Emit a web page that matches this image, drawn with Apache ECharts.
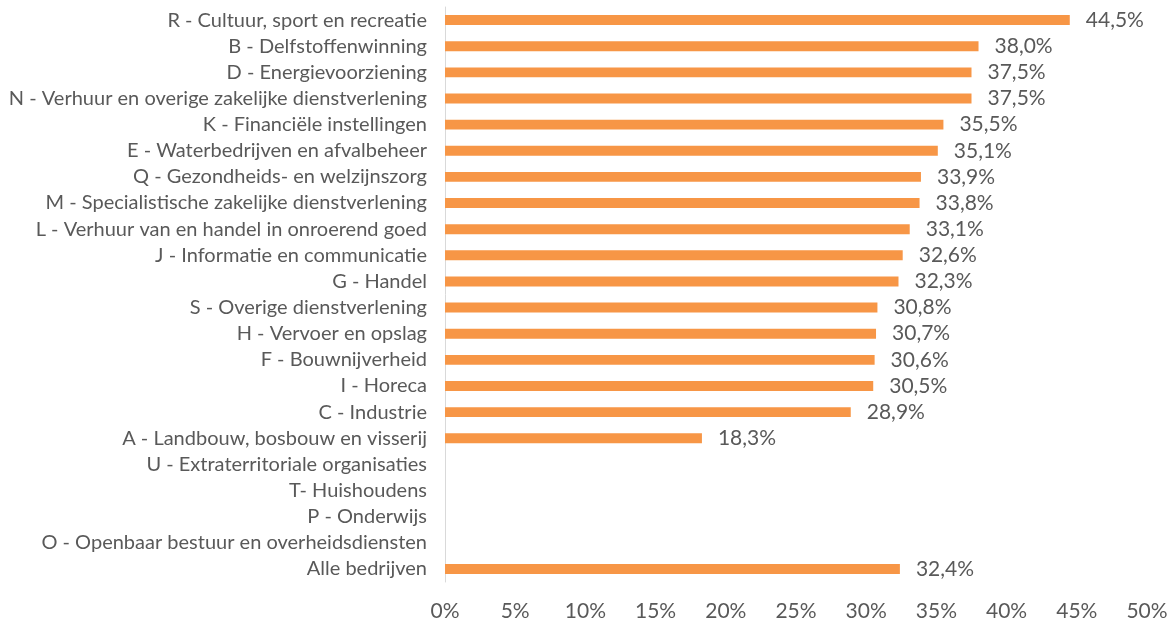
<!DOCTYPE html>
<html>
<head>
<meta charset="utf-8">
<script src="https://cdn.jsdelivr.net/npm/echarts@6/dist/echarts.min.js"></script>
<style>
  html, body { margin: 0; padding: 0; background: #fff; }
  #chart { width: 1176px; height: 623px; }
</style>
</head>
<body>
<div id="chart"></div>
<script>
// sectoren
var categories = [
  'R - Cultuur, sport en recreatie',
  'B - Delfstoffenwinning',
  'D - Energievoorziening',
  'N - Verhuur en overige zakelijke dienstverlening',
  'K - Financiële instellingen',
  'E - Waterbedrijven en afvalbeheer',
  'Q - Gezondheids- en welzijnszorg',
  'M - Specialistische zakelijke dienstverlening',
  'L - Verhuur van en handel in onroerend goed',
  'J - Informatie en communicatie',
  'G - Handel',
  'S - Overige dienstverlening',
  'H - Vervoer en opslag',
  'F - Bouwnijverheid',
  'I - Horeca',
  'C - Industrie',
  'A - Landbouw, bosbouw en visserij',
  'U - Extraterritoriale organisaties',
  'T- Huishoudens',
  'P - Onderwijs',
  'O - Openbaar bestuur en overheidsdiensten',
  'Alle bedrijven'
]
// percentages
var values = [44.5, 38.0, 37.5, 37.5, 35.5, 35.1, 33.9, 33.8, 33.1, 32.6, 32.3,
  30.8, 30.7, 30.6, 30.5, 28.9, 18.3, null, null, null, null, 32.4]

var fmt = function (v) { return v.toFixed(1).replace('.', ',') + '%' }
var textColor = '#595959'
var font = 'Lato'

var chart = echarts.init(document.getElementById('chart'))
chart.setOption({
  animation: false,
  grid: { left: 445, right: 29, top: 7, bottom: 41, containLabel: false },
  xAxis: {
    type: 'value',
    min: 0,
    max: 50,
    interval: 5,
    axisLine: { show: false },
    axisTick: { show: false },
    splitLine: { show: false },
    axisLabel: {
      formatter: '{value}%',
      color: textColor,
      fontFamily: font,
      fontSize: 21,
      margin: 19
    }
  },
  yAxis: {
    type: 'category',
    inverse: true,
    data: categories,
    axisLine: { show: true, lineStyle: { color: '#d9d9d9', width: 1 } },
    axisTick: { show: false },
    axisLabel: {
      color: textColor,
      fontFamily: font,
      fontSize: 20,
      margin: 18
    }
  },
  series: [{
    type: 'bar',
    data: values,
    barCategoryGap: '62%',
    itemStyle: { color: '#F79646' },
    label: {
      show: true,
      position: 'right',
      distance: 16,
      color: textColor,
      fontFamily: font,
      fontSize: 21,
      formatter: function (p) { return p.value == null ? '' : fmt(p.value) }
    }
  }]
})
</script>
</body>
</html>
